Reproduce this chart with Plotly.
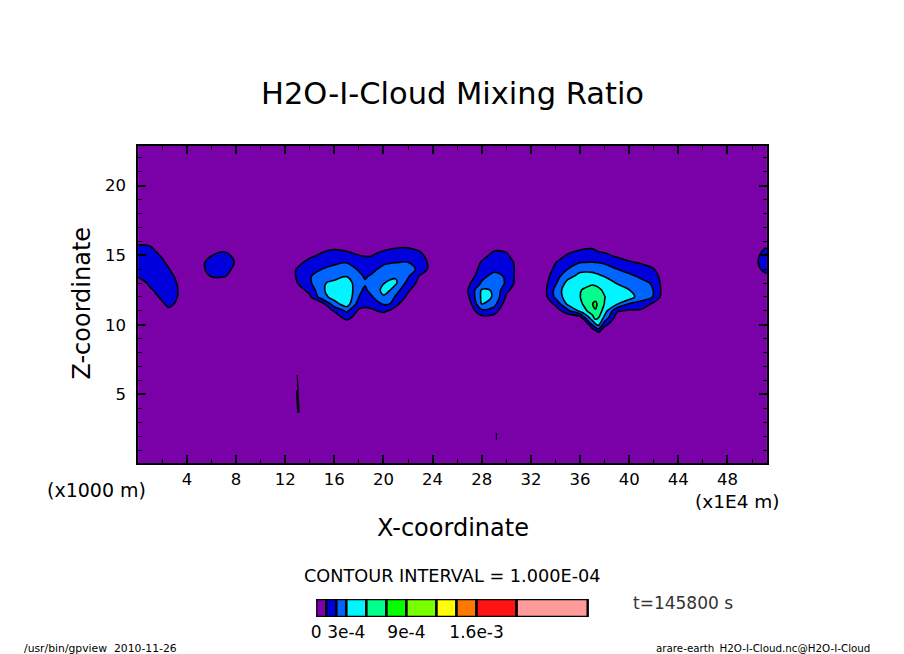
import numpy as np
import plotly.graph_objects as go

# Horizontal grid of the field (unit: 1E4 m)
x_grid = [0.0, 1.0, 2.0, 2.5] + [float(i) for i in range(3, 19)] + [18.5, 19.0, 20.0, 20.5] + [float(i) for i in range(21, 37)] + [36.5, 37.0, 37.25, 37.5] + [float(i) for i in range(38, 53)]
# Vertical grid of the traced band (unit: 1000 m)
y_band = [9, 9.5, 10, 10.5, 11, 11.5, 12, 12.5, 13, 13.5, 14, 14.5, 15, 15.5, 16]
y_below = [0, 8.5]
y_above = [16.5, 23]

# Mixing ratio in units of 1E-4, one list per x_grid column
Z = [0]*15
columns = {
    0: [0,0,0,0,0,0,0,.05,.3,1.1,1.5,1.7,1.65,1.3,.7],
    1: [0,0,0,0,0,.1,.3,.85,1.25,1.45,1.6,1.6,1.5,1.2,.6],
    2: [0,0,0,0,.3,.8,1.3,1.5,1.55,1.5,1.4,1.2,.85,.3,.05],
    2.5: [0,0,0,0,.7,1.3,1.45,1.5,1.5,1.35,1.1,.7,.3,.05,0],
    3: [0,0,0,0,.5,.97,1.25,1.3,1.2,.95,.5,.2,.05,0,0],
    4: [0,0,0,0,0,.05,.1,.15,.05,0,0,0,0,0,0],
    5: [0,0,0,0,0,0,0,0,0,.2,.54,.63,.15,0,0],
    6: [0,0,0,0,0,0,0,0,.2,1.1,1.5,1.4,.96,.1,0],
    7: [0,0,0,0,0,0,0,0,.3,1.1,1.5,1.6,1.3,.7,0],
    8: [0,0,0,0,0,0,0,0,0,.55,.68,.9,.75,.3,0],
    9: [0,0,0,0,0,0,0,0,0,0,0,.15,0,0,0],
    12: [0,0,0,0,0,0,0,0,0,.1,.1,0,0,0,0],
    13: [0,0,0,0,0,0,.1,.5,1.0,1.16,1.12,.6,.1,0,0],
    14: [0,0,0,0,0,.3,.8,1.35,1.85,1.9,1.7,1.4,.7,.1,0],
    15: [0,0,0,0,.2,.6,2.6,2.8,2.85,2.6,2.0,1.6,1.2,.7,.1],
    16: [0,0,.1,.3,1.1,2.6,3.4,3.7,3.3,2.55,2.3,1.8,1.4,.9,.2],
    17: [0,0,.2,1.34,2.17,3.55,3.8,3.8,3.6,2.95,2.4,1.95,1.4,.7,.1],
    18: [0,0,.1,.4,.8,1.5,2.0,2.2,2.3,2.2,1.9,1.4,1.0,.4,0],
    18.5: [0,0,.1,.4,.85,1.15,1.5,1.85,2.1,1.9,1.55,1.25,.95,.4,0],
    19: [0,0,.1,.5,.85,1.3,1.85,2.3,2.4,2.1,1.7,1.3,.95,.4,.05],
    20: [0,0,.15,.5,1.15,2.1,2.9,3.25,2.95,2.6,2.3,1.8,1.35,.8,.1],
    20.5: [0,0,.1,.35,.9,2.0,2.6,3.05,3.2,2.75,2.4,1.9,1.5,.9,.15],
    21: [0,0,0,.2,.6,1.25,1.85,2.45,3.15,2.9,2.5,1.95,1.6,1.0,.2],
    22: [0,0,0,0,.1,.3,.75,1.15,1.65,2.15,2.3,2.0,1.6,1.05,.3],
    23: [0,0,0,0,0,0,.1,.3,.6,.85,1.8,1.7,1.25,.75,.1],
    24: [0,0,0,0,0,0,0,0,0,.1,.4,.43,.3,.1,0],
    27: [0,0,0,.1,.35,.6,1.05,1.15,.9,.4,.2,0,0,0,0],
    28: [0,0,.1,.6,1.75,3.0,3.2,3.1,2.1,1.75,1.4,1.1,.6,.1,0],
    29: [0,0,.1,.55,1.5,2.4,2.95,2.95,2.55,2.25,1.8,1.55,1.3,.8,.1],
    30: [0,0,0,0,0,.4,.85,1.2,1.9,1.9,1.75,1.55,1.2,.7,.1],
    31: [0,0,0,0,0,0,.2,.5,.45,.5,.6,.6,.2,.05,0],
    33: [0,0,0,0,0,.15,.4,.5,.5,.4,.2,0,0,0,0],
    34: [0,0,0,.1,.4,1.2,2.2,2.3,1.85,1.55,1.25,.95,.4,.05,0],
    35: [0,0,0,.1,1.7,3.2,3.6,3.7,3.35,2.65,2.0,1.5,1.1,.5,.05],
    36: [0,0,.05,.4,3.2,3.7,3.97,3.95,3.7,3.3,2.7,1.95,1.45,.85,.1],
    36.5: [0,0,.05,2.3,3.9,4.45,4.5,4.15,3.75,3.35,2.75,1.97,1.5,.95,.15],
    37: [0,.2,2.0,3.6,4.6,4.98,4.85,4.4,3.85,3.35,2.7,2.0,1.5,.97,.15],
    37.25: [0,.5,2.8,4.3,4.95,5.15,4.75,4.3,3.8,3.25,2.65,1.97,1.4,.85,.12],
    37.5: [0,1.1,3.2,4.0,4.6,4.85,4.6,4.15,3.75,3.15,2.6,1.95,1.3,.7,.1],
    38: [0,.15,1.3,2.7,3.5,3.95,4.03,3.85,3.45,2.95,2.4,1.85,1.2,.65,.05],
    39: [0,0,.1,.5,1.1,3.1,3.4,3.35,2.95,2.5,2.0,1.45,.8,.3,0],
    40: [0,0,0,.2,.85,1.9,3.6,3.02,2.5,2.15,1.75,1.1,.5,.1,0],
    41: [0,0,0,.1,.75,1.8,2.25,2.35,2.2,1.85,1.4,.85,.3,0,0],
    42: [0,0,0,0,.4,.7,1.97,1.98,1.9,1.5,1.05,.5,.1,0,0],
    43: [0,0,0,0,0,0,.1,.25,.15,.2,0,0,0,0,0],
    50: [0,0,0,0,0,0,0,0,0,0,.2,.3,.2,0,0],
    51: [0,0,0,0,0,0,0,0,.1,.6,1.35,1.7,1.5,.95,.2],
    52: [0,0,0,0,0,0,0,0,.6,1.1,1.8,2.0,1.8,1.3,.5],
}

# Thin isolated contours
sliver_thin_x = [12.98, 13.0, 13.05]
sliver_thin_y = [6.4, 5.6, 5.2]
sliver_thick_x = [12.97, 13.03, 13.08]
sliver_thick_y = [5.3, 4.6, 3.7]
speck_x = [29.19, 29.19]
speck_y = [2.24, 1.73]

# Colour key
key_levels = [0, 1, 2, 3, 5, 7, 9, 12, 14, 16, 20, 27.1]
key_colors = ["#7a00a8", "#0000dc", "#0064ff", "#00f5ff", "#00ff8c", "#00ff00",
              "#78ff00", "#ffff00", "#ff7800", "#ff1414", "#ff9b9b"]
key_tickvals = [0, 3, 9, 16]
key_ticktext = ["0", "3e-4", "9e-4", "1.6e-3"]

x_ticks = list(range(4, 52, 4))
y_ticks = [5, 10, 15, 20]

W, H = 904, 654
SHIFT = 2
def px(p): return p / W
def py(p): return 1 - p / H

cols = [columns.get(x, Z) for x in x_grid]
band = np.array(cols, dtype=float).T
y_all = y_below + y_band + y_above
z_all = np.vstack([np.zeros((2, len(x_grid))), band, np.zeros((2, len(x_grid)))])

# band colours for the filled contours: levels 1..5 (units of 1E-4)
fill_colors = key_colors[:5] + ["#00ff00"]
n = len(fill_colors)
colorscale = []
for i, c in enumerate(fill_colors):
    colorscale += [[i / n, c], [(i + 1) / n, c]]

fig = go.Figure()
fig.add_trace(go.Contour(
    x=x_grid, y=y_all, z=z_all, zmin=0, zmax=n, autocontour=False,
    contours=dict(start=1, end=5, size=1, coloring="fill"),
    colorscale=colorscale, showscale=False,
    line=dict(color="black", width=1.6, smoothing=1.0), hoverinfo="skip"))
for xs, ys, w in [(sliver_thin_x, sliver_thin_y, 1.2), (sliver_thick_x, sliver_thick_y, 2.6), (speck_x, speck_y, 1.2)]:
    fig.add_trace(go.Scatter(x=xs, y=ys, mode="lines", line=dict(color="black", width=w), showlegend=False, hoverinfo="skip"))

fig.add_trace(go.Bar(
    x=np.diff(key_levels).tolist(), y=[0] * len(key_colors), base=key_levels[:-1],
    orientation="h", width=1, xaxis="x2", yaxis="y2", showlegend=False, hoverinfo="skip",
    marker=dict(color=key_colors, line=dict(color="black", width=2.5))))

FONT = "DejaVu Sans"
axis_common = dict(showgrid=False, zeroline=False, showline=True, linecolor="black", linewidth=2,
                   mirror="allticks", ticks="inside", tickcolor="black", tickwidth=2, ticklen=8,
                   tickfont=dict(family=FONT, size=16.5, color="black"))
fig.update_layout(
    width=W, height=H, margin=dict(l=0, r=0, t=0, b=0), autosize=False,
    paper_bgcolor="white", plot_bgcolor="#7a00a8", showlegend=False, barmode="overlay",
    xaxis=dict(domain=[px(136 - SHIFT), px(768 - SHIFT)], range=[0.04, 51.2], tickvals=x_ticks,
               minor=dict(dtick=2, tick0=0, ticks="inside", ticklen=4, tickwidth=1, tickcolor="black"), **axis_common),
    yaxis=dict(domain=[py(463), py(146)], range=[0.08, 22.84], tickvals=y_ticks, ticklabelstandoff=7,
               minor=dict(dtick=1, tick0=0, ticks="inside", ticklen=4, tickwidth=1, tickcolor="black"), **axis_common),
    xaxis2=dict(domain=[px(315 - SHIFT), px(589 - SHIFT)], range=[0, 27.2], anchor="y2", tickvals=key_tickvals, ticktext=key_ticktext,
                showgrid=False, zeroline=False, ticks="", showline=False, ticklabelstandoff=3,
                tickfont=dict(family=FONT, size=17, color="black")),
    yaxis2=dict(domain=[py(617), py(599)], range=[-0.5, 0.5], anchor="x2", visible=False),
)

def note(text, x, y, size, anchor="center", color="black", angle=0):
    fig.add_annotation(text=text, xref="paper", yref="paper", x=px(x), y=py(y), showarrow=False,
                       xanchor=anchor, yanchor="middle", textangle=angle,
                       font=dict(family=FONT, size=size, color=color))

note("H2O-I-Cloud Mixing Ratio", 450, 93, 30.5)
note("X-coordinate", 450, 528, 24)
note("Z-coordinate", 77, 303, 24, angle=-90)
note("(x1000 m)", 92, 490, 19)
note("(x1E4 m)", 737, 501, 18.5)
note("CONTOUR INTERVAL = 1.000E-04", 450, 576, 17.7)
note("t=145800 s", 682, 603, 17, color="#333333")
note("/usr/bin/gpview  2010-11-26", 17, 648, 10.8, anchor="left")
note("arare-earth_H2O-I-Cloud.nc@H2O-I-Cloud", 872, 648, 10.3, anchor="right")

fig.write_html("out.html", config={"displayModeBar": False}, post_script="document.body.style.margin='0';")
